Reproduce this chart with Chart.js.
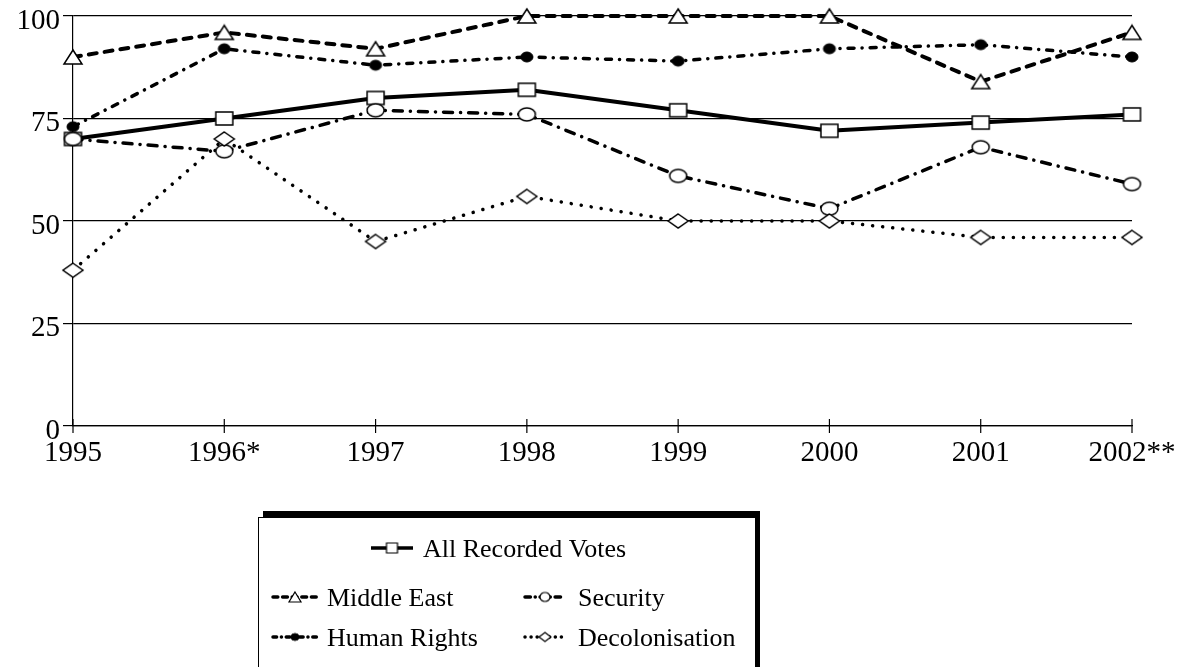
<!DOCTYPE html>
<html><head><meta charset="utf-8">
<script src="https://cdn.jsdelivr.net/npm/chart.js@4.4.0/dist/chart.umd.min.js"></script>
<style>html,body{margin:0;padding:0;background:#fff;} #wrap{width:1194px;height:667px;position:relative;}</style>
</head><body><div id="wrap"><canvas id="c" width="1194" height="667"></canvas></div>
<script>
const years = ['1995','1996*','1997','1998','1999','2000','2001','2002**'];
const allVotes = [70,75,80,82,77,72,74,76];
const middleEast = [90,96,92,100,100,100,84,96];
const humanRights = [73,92,88,90,89,92,93,90];
const security = [70,67,77,76,61,53,68,59];
const decolonisation = [38,70,45,56,50,50,46,46];
const seriesNames = ['All Recorded Votes','Middle East','Human Rights','Security','Decolonisation'];
const yTicks = [0,25,50,75,100];

const FONT = '"Liberation Serif", "Times New Roman", serif';

function marker(kind, w, h, lw) {
  const c = document.createElement('canvas');
  const pad = 2;
  c.width = Math.ceil(w + pad*2); c.height = Math.ceil(h + pad*2);
  const g = c.getContext('2d');
  g.lineWidth = lw; g.strokeStyle = '#000'; g.fillStyle = '#fff';
  const cx = c.width/2, cy = c.height/2;
  g.beginPath();
  if (kind === 'square') g.rect(cx-w/2, cy-h/2, w, h);
  else if (kind === 'triangle') { g.moveTo(cx, cy-h/2); g.lineTo(cx+w/2, cy+h/2); g.lineTo(cx-w/2, cy+h/2); g.closePath(); }
  else if (kind === 'circle' || kind === 'dot') g.ellipse(cx, cy, w/2, h/2, 0, 0, Math.PI*2);
  else if (kind === 'diamond') { g.moveTo(cx, cy-h/2); g.lineTo(cx+w/2, cy); g.lineTo(cx, cy+h/2); g.lineTo(cx-w/2, cy); g.closePath(); }
  if (kind === 'dot') g.fillStyle = '#000';
  g.fill(); g.stroke();
  return c;
}

const styles = [
  {mk: marker('square',17,13,1.5), lg: marker('square',11,10,1.2), dash: [], cap:'butt', w:4},
  {mk: marker('triangle',18,14,1.5), lg: marker('triangle',12,10,1.2), dash: [8,8], cap:'round', w:4},
  {mk: marker('dot',12,10,1), lg: marker('dot',8,7,1), dash: [6,8,0.1,8], cap:'round', w:3.5},
  {mk: marker('circle',17,13,1.5), lg: marker('circle',10,9,1.2), dash: [9,8,0.1,8], cap:'round', w:3.5},
  {mk: marker('diamond',20,14,1.5), lg: marker('diamond',12,9,1.2), dash: [0.1,10], cap:'round', w:3.5},
];
const values = [allVotes, middleEast, humanRights, security, decolonisation];

const datasets = values.map((v, i) => ({
  label: seriesNames[i],
  data: v,
  borderColor: '#000',
  backgroundColor: '#fff',
  borderWidth: styles[i].w,
  borderDash: styles[i].dash,
  borderCapStyle: styles[i].cap,
  borderJoinStyle: 'round',
  pointStyle: styles[i].mk,
  pointRadius: 8,
  tension: 0,
  clip: false,
  order: 5 - i
}));

const xTickPlugin = {
  id: 'xTicks',
  afterDraw(chart) {
    const xs = chart.scales.x, ctx = chart.ctx, b = chart.chartArea.bottom;
    ctx.save();
    ctx.strokeStyle = '#000'; ctx.lineWidth = 1.2;
    for (let i = 0; i < xs.ticks.length; i++) {
      const x = xs.getPixelForTick(i);
      ctx.beginPath(); ctx.moveTo(x, b - 7); ctx.lineTo(x, b + 7); ctx.stroke();
    }
    ctx.restore();
  }
};

const legendLayout = [
  {ds:0, x1:371, x2:413, y:548, tx:423},
  {ds:1, x1:273, x2:317, y:597, tx:327},
  {ds:3, x1:525, x2:565, y:597, tx:578},
  {ds:2, x1:273, x2:317, y:637, tx:327},
  {ds:4, x1:525, x2:565, y:637, tx:578},
];

const legendPlugin = {
  id: 'customLegend',
  afterDraw(chart) {
    const ctx = chart.ctx;
    ctx.save();
    ctx.fillStyle = '#000';
    ctx.fillRect(263, 511, 497, 200);
    ctx.fillStyle = '#fff';
    ctx.fillRect(258, 517, 497, 200);
    ctx.strokeStyle = '#000'; ctx.lineWidth = 1;
    ctx.strokeRect(258.5, 517.5, 497, 200);
    ctx.font = '26px ' + FONT;
    ctx.textBaseline = 'alphabetic';
    ctx.textAlign = 'left';
    legendLayout.forEach(item => {
      const ds = chart.data.datasets[item.ds];
      const st = styles[item.ds];
      ctx.strokeStyle = '#000';
      ctx.lineWidth = Math.min(3.5, ds.borderWidth);
      ctx.lineCap = ds.borderCapStyle;
      ctx.setLineDash(ds.borderDash.map(d => d * 0.6));
      ctx.beginPath(); ctx.moveTo(item.x1, item.y); ctx.lineTo(item.x2, item.y); ctx.stroke();
      ctx.setLineDash([]);
      const mx = (item.x1 + item.x2) / 2;
      ctx.drawImage(st.lg, mx - st.lg.width/2, item.y - st.lg.height/2);
      ctx.fillStyle = '#000';
      ctx.fillText(ds.label, item.tx, item.y + 9);
    });
    ctx.restore();
  }
};

new Chart(document.getElementById('c'), {
  type: 'line',
  data: { labels: years, datasets },
  options: {
    responsive: false,
    animation: false,
    devicePixelRatio: 1,
    layout: { padding: { top: 16, right: 62, bottom: 197, left: 0 } },
    plugins: { legend: { display: false }, tooltip: { enabled: false } },
    scales: {
      x: {
        type: 'category',
        offset: false,
        grid: { display: false, drawTicks: false },
        border: { display: true, color: '#000', width: 1.2 },
        ticks: { color: '#000', font: { family: FONT, size: 29 }, padding: 10, maxRotation: 0, autoSkip: false },
        afterFit(s) { s.height = 44; s.paddingLeft = 0; s.paddingRight = 0; }
      },
      y: {
        min: 0, max: 100,
        afterBuildTicks(s) { s.ticks = yTicks.map(v => ({ value: v })); },
        grid: { color: '#000', lineWidth: 1.2, tickLength: 10, drawTicks: true },
        border: { display: true, color: '#000', width: 1.2 },
        ticks: { color: '#000', font: { family: FONT, size: 29 }, padding: 3, labelOffset: 5 },
        afterFit(s) { s.width = 73; s.paddingTop = 0; s.paddingBottom = 0; }
      }
    }
  },
  plugins: [xTickPlugin, legendPlugin]
});
</script>
</body></html>
